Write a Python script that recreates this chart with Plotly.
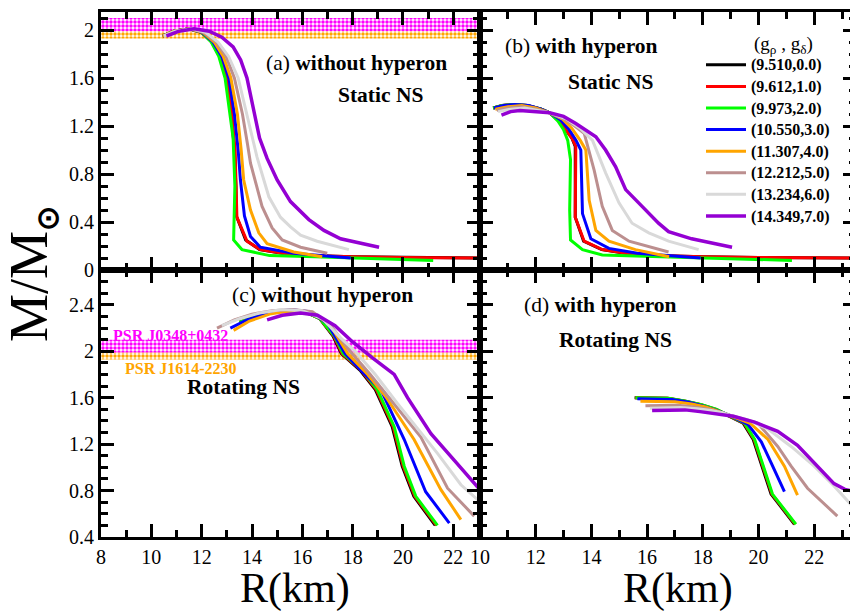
import plotly.graph_objects as go

W, H = 858, 613
FONT = "Liberation Serif"

labels = ["(9.510,0.0)", "(9.612,1.0)", "(9.973,2.0)", "(10.550,3.0)",
          "(11.307,4.0)", "(12.212,5.0)", "(13.234,6.0)", "(14.349,7.0)"]
colors = ["#000000", "#ff0000", "#00ff00", "#0000ff",
          "#ffa500", "#bc8f8f", "#d9d9d9", "#9400d3"]
widths = [3, 3, 3, 3, 3, 3, 3, 3.5]

# pulsar constraints (M/Msun)
psr_names = ["PSR J1614-2230", "PSR J0348+0432"]
psr_lo = [1.93, 1.99]
psr_hi = [1.99, 2.10]
psr_colors = ["#ffa500", "#ff00ff"]

# (a) static, without hyperon
a_R = [
    [10.45, 10.9, 11.5, 12.0, 12.4, 12.72, 12.98, 13.18, 13.3, 13.36, 13.38, 13.75, 14.3, 15.6, 18.0, 20.0, 23.2],
    [10.45, 10.9, 11.5, 12.0, 12.4, 12.75, 13.0, 13.2, 13.33, 13.38, 13.4, 13.8, 14.33, 15.65, 18.0, 20.0, 23.2],
    [10.45, 10.9, 11.5, 12.0, 12.38, 12.68, 12.93, 13.13, 13.25, 13.32, 13.3, 13.27, 13.6, 14.7, 16.5, 18.3, 21.2],
    [10.45, 10.9, 11.5, 12.02, 12.45, 12.8, 13.08, 13.3, 13.45, 13.54, 13.7, 13.94, 14.33, 15.65, 17.92],
    [10.45, 10.9, 11.5, 12.05, 12.5, 12.86, 13.16, 13.42, 13.57, 13.67, 13.94, 14.27, 14.6, 15.66, 16.79],
    [10.5, 10.95, 11.55, 12.1, 12.58, 12.97, 13.3, 13.62, 13.82, 13.94, 14.4, 14.8, 15.2, 15.93, 16.99],
    [10.5, 10.95, 11.6, 12.15, 12.65, 13.07, 13.45, 13.8, 14.05, 14.2, 14.67, 15.13, 15.53, 15.93, 16.59, 17.85],
    [10.6, 11.1, 11.7, 12.3, 12.8, 13.25, 13.55, 13.8, 14.05, 14.3, 14.6, 15.0, 15.53, 16.26, 16.86, 17.52, 19.05],
]
a_M = [
    [1.95, 1.99, 2.01, 1.98, 1.90, 1.78, 1.60, 1.30, 1.00, 0.70, 0.45, 0.25, 0.17, 0.125, 0.11, 0.105, 0.10],
    [1.95, 1.99, 2.01, 1.98, 1.90, 1.78, 1.60, 1.30, 1.00, 0.70, 0.44, 0.24, 0.17, 0.125, 0.11, 0.105, 0.10],
    [1.95, 1.99, 2.01, 1.98, 1.90, 1.78, 1.60, 1.30, 1.10, 0.70, 0.45, 0.25, 0.17, 0.12, 0.11, 0.10, 0.08],
    [1.95, 1.99, 2.01, 1.98, 1.90, 1.78, 1.60, 1.30, 1.00, 0.75, 0.45, 0.28, 0.19, 0.14, 0.10],
    [1.95, 1.99, 2.01, 1.98, 1.90, 1.78, 1.60, 1.30, 1.00, 0.75, 0.50, 0.31, 0.22, 0.15, 0.11],
    [1.95, 1.99, 2.01, 1.98, 1.90, 1.78, 1.60, 1.30, 1.05, 0.89, 0.53, 0.35, 0.25, 0.19, 0.14],
    [1.95, 1.99, 2.01, 1.98, 1.90, 1.78, 1.60, 1.30, 1.08, 0.94, 0.61, 0.44, 0.36, 0.29, 0.24, 0.17],
    [1.95, 1.99, 2.01, 1.99, 1.94, 1.86, 1.75, 1.60, 1.35, 1.10, 0.93, 0.75, 0.57, 0.42, 0.33, 0.26, 0.19],
]

# (b) static, with hyperon
b_R = [
    [10.47, 10.8, 11.2, 11.7, 12.2, 12.5, 12.85, 13.1, 13.3, 13.42, 13.42, 13.72, 14.37, 15.6, 18.0, 20.0, 23.5],
    [10.47, 10.8, 11.2, 11.7, 12.2, 12.5, 12.85, 13.1, 13.3, 13.44, 13.42, 13.74, 14.39, 15.65, 18.0, 20.0, 23.5],
    [10.47, 10.8, 11.2, 11.7, 12.2, 12.5, 12.8, 13.0, 13.15, 13.25, 13.22, 13.25, 13.68, 14.39, 16.5, 18.3, 21.2],
    [10.5, 10.85, 11.25, 11.75, 12.2, 12.5, 12.9, 13.2, 13.45, 13.62, 13.68, 13.98, 14.63, 15.65, 17.92],
    [10.55, 11.0, 11.5, 12.0, 12.5, 12.95, 13.3, 13.6, 13.8, 13.92, 14.16, 14.63, 15.58, 16.79],
    [10.6, 11.0, 11.5, 12.0, 12.5, 13.0, 13.4, 13.74, 14.1, 14.39, 14.75, 15.35, 16.77],
    [10.65, 11.1, 11.6, 12.1, 12.5, 13.1, 13.6, 14.04, 14.51, 14.99, 15.46, 16.06, 16.77, 17.85],
    [10.77, 11.1, 11.43, 12.0, 12.5, 13.0, 13.44, 14.16, 14.51, 14.87, 15.23, 15.82, 16.41, 16.77, 17.6, 19.05],
]
b_M = [
    [1.35, 1.37, 1.38, 1.37, 1.34, 1.31, 1.24, 1.16, 1.10, 1.03, 0.44, 0.24, 0.17, 0.125, 0.11, 0.105, 0.10],
    [1.35, 1.37, 1.38, 1.37, 1.34, 1.31, 1.24, 1.16, 1.10, 1.03, 0.44, 0.24, 0.17, 0.125, 0.11, 0.105, 0.10],
    [1.35, 1.37, 1.38, 1.37, 1.34, 1.31, 1.24, 1.17, 1.08, 0.92, 0.50, 0.25, 0.17, 0.125, 0.11, 0.10, 0.08],
    [1.35, 1.37, 1.38, 1.37, 1.34, 1.31, 1.25, 1.17, 1.08, 1.00, 0.47, 0.26, 0.18, 0.14, 0.10],
    [1.34, 1.36, 1.37, 1.35, 1.31, 1.26, 1.18, 1.08, 1.00, 0.58, 0.33, 0.24, 0.17, 0.11],
    [1.33, 1.35, 1.36, 1.34, 1.31, 1.26, 1.20, 1.14, 0.83, 0.53, 0.33, 0.24, 0.15],
    [1.32, 1.34, 1.35, 1.33, 1.31, 1.26, 1.18, 1.08, 0.81, 0.56, 0.39, 0.31, 0.24, 0.17],
    [1.29, 1.32, 1.33, 1.32, 1.31, 1.28, 1.22, 1.11, 1.00, 0.86, 0.67, 0.53, 0.39, 0.32, 0.26, 0.19],
]

# (c) rotating, without hyperon
c_R = [
    [13.5, 14.3, 15.2, 16.0, 16.7, 17.22, 17.55, 18.32, 18.9, 19.57, 19.97, 20.43, 21.28],
    [13.5, 14.3, 15.2, 16.0, 16.7, 17.25, 17.58, 18.36, 18.94, 19.61, 20.01, 20.47, 21.33],
    [13.5, 14.3, 15.2, 16.0, 16.7, 17.28, 17.62, 18.4, 18.98, 19.65, 20.05, 20.51, 21.37],
    [13.14, 13.8, 14.6, 15.5, 16.3, 17.0, 17.7, 18.4, 19.12, 20.05, 20.9, 21.84],
    [13.27, 13.9, 14.7, 15.6, 16.4, 17.1, 17.8, 18.6, 19.31, 20.44, 21.5, 22.3],
    [12.61, 13.3, 14.0, 14.8, 15.6, 16.4, 17.1, 17.9, 18.7, 19.51, 20.71, 21.77, 22.83],
    [12.8, 13.5, 14.3, 15.2, 16.0, 16.8, 17.5, 18.1, 18.9, 19.78, 21.37, 22.3, 22.97, 23.3],
    [14.6, 15.2, 15.93, 16.6, 17.3, 18.0, 18.8, 19.65, 20.18, 21.11, 22.04, 22.97, 23.3],
]
c_M = [
    [2.25, 2.31, 2.35, 2.35, 2.28, 2.13, 1.98, 1.83, 1.67, 1.35, 1.01, 0.75, 0.50],
    [2.25, 2.31, 2.35, 2.35, 2.28, 2.13, 1.98, 1.83, 1.67, 1.35, 1.01, 0.75, 0.50],
    [2.25, 2.31, 2.35, 2.35, 2.28, 2.13, 1.98, 1.83, 1.67, 1.35, 1.01, 0.75, 0.50],
    [2.20, 2.27, 2.33, 2.36, 2.34, 2.24, 1.98, 1.82, 1.67, 1.24, 0.79, 0.52],
    [2.18, 2.26, 2.32, 2.35, 2.33, 2.23, 1.98, 1.80, 1.61, 1.24, 0.81, 0.55],
    [2.20, 2.27, 2.32, 2.35, 2.36, 2.34, 2.23, 2.00, 1.80, 1.58, 1.26, 0.82, 0.58],
    [2.22, 2.28, 2.33, 2.36, 2.35, 2.28, 2.12, 2.00, 1.80, 1.55, 1.12, 0.85, 0.72, 0.68],
    [2.27, 2.31, 2.33, 2.31, 2.22, 2.08, 1.94, 1.80, 1.60, 1.29, 1.06, 0.83, 0.78],
]

# (d) rotating, with hyperon
d_R = [
    [15.55, 16.15, 16.72, 17.35, 17.91, 18.45, 18.87, 19.45, 19.81, 20.09, 20.45, 21.29],
    [15.57, 16.18, 16.75, 17.38, 17.94, 18.48, 18.89, 19.48, 19.84, 20.12, 20.48, 21.32],
    [15.58, 16.2, 16.77, 17.4, 17.96, 18.5, 18.91, 19.5, 19.86, 20.14, 20.5, 21.34],
    [15.65, 16.3, 16.9, 17.5, 18.0, 18.5, 18.95, 19.62, 20.1, 20.45, 20.93],
    [15.76, 16.4, 17.0, 17.6, 18.1, 18.55, 18.95, 19.7, 20.34, 20.93, 21.4],
    [15.94, 16.5, 17.1, 17.7, 18.2, 18.6, 18.95, 19.98, 20.69, 21.17, 21.76, 22.83],
    [16.1, 16.6, 17.2, 17.8, 18.3, 18.7, 18.95, 19.6, 20.34, 21.17, 22.0, 22.71, 23.43],
    [16.18, 16.8, 17.36, 17.9, 18.43, 19.1, 19.86, 20.69, 21.4, 22.11, 22.71, 23.1, 23.5],
]
d_M = [
    [1.60, 1.60, 1.596, 1.57, 1.54, 1.50, 1.45, 1.38, 1.24, 1.04, 0.77, 0.51],
    [1.60, 1.60, 1.596, 1.57, 1.54, 1.50, 1.45, 1.38, 1.24, 1.04, 0.77, 0.51],
    [1.60, 1.60, 1.596, 1.57, 1.54, 1.50, 1.45, 1.38, 1.24, 1.04, 0.77, 0.51],
    [1.59, 1.59, 1.585, 1.56, 1.53, 1.49, 1.45, 1.37, 1.22, 1.04, 0.79],
    [1.57, 1.57, 1.565, 1.545, 1.52, 1.485, 1.45, 1.38, 1.24, 1.01, 0.76],
    [1.53, 1.535, 1.535, 1.52, 1.50, 1.475, 1.45, 1.38, 1.18, 1.01, 0.82, 0.58],
    [1.51, 1.515, 1.515, 1.505, 1.49, 1.47, 1.45, 1.41, 1.33, 1.18, 1.01, 0.84, 0.65],
    [1.49, 1.495, 1.495, 1.48, 1.46, 1.44, 1.39, 1.31, 1.19, 1.01, 0.86, 0.81, 0.79],
]

x_left_range = [8, 23.06]
x_right_range = [10, 23.5]
y_top_range = [0, 2.15]
y_bot_range = [0.4, 2.7]

# the page places the figure 8 px in from the window's top-left corner
OFF = 8


def px(x):
    return (x - OFF) / W


def py(y):
    return 1 - (y - OFF) / H


fig = go.Figure()

# pulsar bands on the left panels
for xa, ya in [("x", "y"), ("x3", "y3")]:
    for name, lo, hi, col in zip(psr_names, psr_lo, psr_hi, psr_colors):
        fig.add_trace(go.Scatter(
            x=[x_left_range[0], x_left_range[1], x_left_range[1], x_left_range[0]],
            y=[lo, lo, hi, hi], fill="toself", mode="lines",
            line=dict(width=0, color=col), fillcolor="rgba(0,0,0,0)",
            fillpattern=dict(shape=".", fgcolor=col, bgcolor="white", size=4, solidity=0.6),
            hoverinfo="skip", showlegend=False, xaxis=xa, yaxis=ya))

panels = [(a_R, a_M, "x", "y"), (b_R, b_M, "x2", "y2"),
          (c_R, c_M, "x3", "y3"), (d_R, d_M, "x4", "y4")]
for p, (Rs, Ms, xa, ya) in enumerate(panels):
    for i in range(len(labels)):
        fig.add_trace(go.Scatter(
            x=Rs[i], y=Ms[i], mode="lines",
            name="<span style='font-size:16px'><b>" + labels[i] + "</b></span>",
            line=dict(color=colors[i], width=widths[i]),
            showlegend=(p == 1), xaxis=xa, yaxis=ya))

tickfont = dict(family=FONT, size=20, color="black")
base = dict(showline=True, linewidth=3, linecolor="black", mirror="allticks",
            ticks="inside", ticklen=13, tickwidth=3, tickcolor="black",
            showgrid=False, zeroline=False, tickfont=tickfont, automargin=False,
            minor=dict(ticks="inside", ticklen=7, tickwidth=3, tickcolor="black", showgrid=False))

xl = [px(101), px(480)]
xr = [px(480), px(856)]
yt = [py(270), py(12)]
yb = [py(537), py(270)]

fig.update_layout(
    template="none",
    width=W, height=H, margin=dict(l=0, r=0, t=0, b=0, autoexpand=False),
    paper_bgcolor="white", plot_bgcolor="white",
    font=dict(family=FONT, color="black"),
    xaxis=dict(base, domain=xl, range=x_left_range, anchor="y", dtick=2, tick0=8,
               showticklabels=False, minor=dict(base["minor"], dtick=1)),
    yaxis=dict(base, domain=yt, range=y_top_range, anchor="x", dtick=0.4, tick0=0,
               minor=dict(base["minor"], dtick=0.1)),
    xaxis2=dict(base, domain=xr, range=x_right_range, anchor="y2", dtick=2, tick0=10,
                showticklabels=False, minor=dict(base["minor"], dtick=1)),
    yaxis2=dict(base, domain=yt, range=y_top_range, anchor="x2", dtick=0.4, tick0=0,
                showticklabels=False, minor=dict(base["minor"], dtick=0.1)),
    xaxis3=dict(base, domain=xl, range=x_left_range, anchor="y3", dtick=2, tick0=8,
                minor=dict(base["minor"], dtick=1)),
    yaxis3=dict(base, domain=yb, range=y_bot_range, anchor="x3", dtick=0.4, tick0=0.4,
                minor=dict(base["minor"], dtick=0.1)),
    xaxis4=dict(base, domain=xr, range=x_right_range, anchor="y4", dtick=2, tick0=10,
                minor=dict(base["minor"], dtick=1)),
    yaxis4=dict(base, domain=yb, range=y_bot_range, anchor="x4", dtick=0.4, tick0=0.4,
                showticklabels=False, minor=dict(base["minor"], dtick=0.1)),
    legend=dict(x=px(701), y=py(49), xanchor="left", yanchor="top",
                bgcolor="rgba(0,0,0,0)", borderwidth=0, itemwidth=40,
                font=dict(family=FONT, size=14.3, color="black"),
                traceorder="normal"),
    showlegend=True,
)


def ann(text, x, y, size, color="black", angle=0):
    fig.add_annotation(text=text, x=px(x), y=py(y), xref="paper", yref="paper",
                       showarrow=False, xanchor="center", yanchor="middle",
                       textangle=angle, font=dict(family=FONT, size=size, color=color))


ann("(a) <b>without hyperon</b>", 356, 63, 21.5)
ann("<b>Static NS</b>", 380, 95, 21.5)
ann("(b) <b>with hyperon</b>", 581, 46, 21.5)
ann("<b>Static NS</b>", 610, 82, 21.5)
ann("(c) <b>without hyperon</b>", 322, 295, 21.5)
ann("<b>" + psr_names[1] + "</b>", 170, 335, 16, psr_colors[1])
ann("<b>" + psr_names[0] + "</b>", 181, 368, 16, psr_colors[0])
ann("<b>Rotating NS</b>", 243, 387, 21.5)
ann("(d) <b>with hyperon</b>", 600, 305, 21.5)
ann("<b>Rotating NS</b>", 615, 340, 21.5)
ann("(g<sub>ρ</sub> , g<sub>δ</sub>)", 783, 45, 19)
ann("M/M<sub><span style='font-size:30px'><b>⊙</b></span></sub>", 31, 274, 54, angle=-90)
ann("R(km)", 295, 588, 42)
ann("R(km)", 678, 588, 42)

fig.write_html("out.html")
